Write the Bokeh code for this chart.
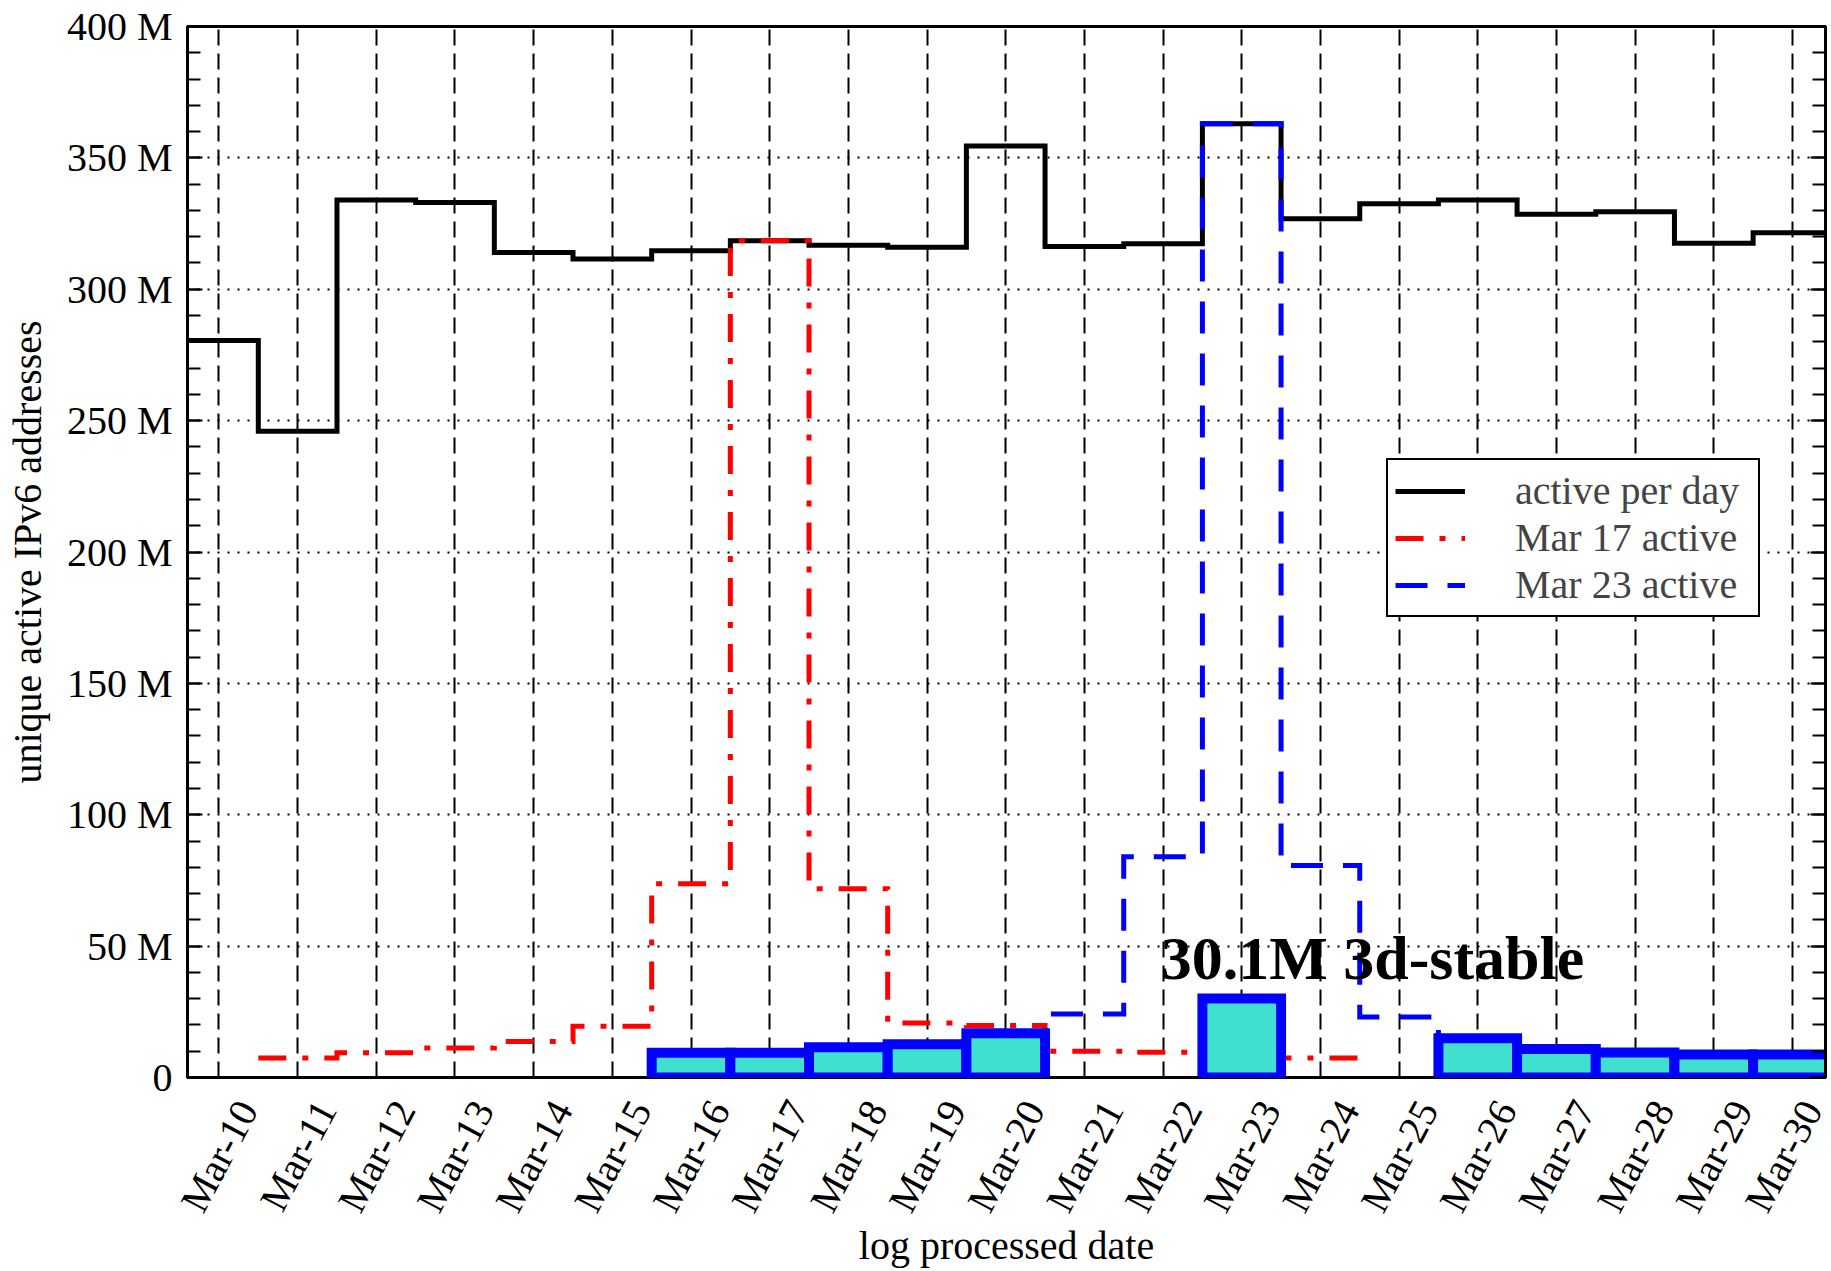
from bokeh.plotting import figure
from bokeh.models import Range1d, FixedTicker, LinearAxis, Legend, LegendItem
from bokeh.core.properties import value
from bokeh.embed import file_html
from bokeh.resources import INLINE
import math

# ---------------- data (millions of addresses) ----------------
day_labels = ["Mar-10", "Mar-11", "Mar-12", "Mar-13", "Mar-14", "Mar-15", "Mar-16",
              "Mar-17", "Mar-18", "Mar-19", "Mar-20", "Mar-21", "Mar-22", "Mar-23",
              "Mar-24", "Mar-25", "Mar-26", "Mar-27", "Mar-28", "Mar-29", "Mar-30"]

active_per_day = [280.5, 246.0, 334.0, 333.0, 314.0, 311.5, 314.7, 318.5, 316.7, 316.0,
                  354.5, 316.3, 317.3, 363.0, 326.8, 332.5, 334.0, 328.5, 329.5, 317.5, 321.5]

mar17_days = ["Mar-11", "Mar-12", "Mar-13", "Mar-14", "Mar-15", "Mar-16", "Mar-17",
              "Mar-18", "Mar-19", "Mar-20", "Mar-21", "Mar-22", "Mar-23", "Mar-24"]
mar17_active = [7.4, 9.4, 11.2, 13.7, 19.5, 73.7, 318.5, 71.8, 20.7, 19.8, 10.0, 9.6, 9.5, 7.4]

mar23_days = ["Mar-20", "Mar-21", "Mar-22", "Mar-23", "Mar-24", "Mar-25", "Mar-26"]
mar23_active = [16.8, 24.2, 84.0, 363.0, 80.7, 23.0, 14.9]

stable_days = ["Mar-16", "Mar-17", "Mar-18", "Mar-19", "Mar-20", "Mar-23",
               "Mar-26", "Mar-27", "Mar-28", "Mar-29", "Mar-30"]
stable_3d = [9.4, 9.4, 11.5, 12.7, 16.8, 30.1, 14.9, 10.8, 9.5, 8.8, 8.8]

annotation_text = ["30.1M 3d-stable"]
annotation_day = ["Mar-22"]

y_ticks = [0, 50, 100, 150, 200, 250, 300, 350, 400]
y_tick_labels = ["0", "50 M", "100 M", "150 M", "200 M", "250 M", "300 M", "350 M", "400 M"]

series_names = ["active per day", "Mar 17 active", "Mar 23 active"]

FONT = "Liberation Serif"
X_LO, X_HI = -0.4, 20.42
LABEL_SHIFT = 0.36   # tick labels sit a little to the right of their tick (as in the reference)


def idx(d):
    return day_labels.index(d)


def step_xy(days, vals):
    xs, ys = [], []
    for d, v in zip(days, vals):
        i = idx(d)
        xs += [i - 0.5, i + 0.5]
        ys += [v, v]
    return xs, ys


p = figure(width=1831, height=1271,
           x_range=Range1d(X_LO, X_HI), y_range=Range1d(0, 400),
           x_axis_location=None,
           output_backend="svg", toolbar_location=None,
           min_border_left=187, min_border_right=6,
           min_border_top=26, min_border_bottom=194)
p.extra_x_ranges = {"lab": Range1d(X_LO - LABEL_SHIFT, X_HI - LABEL_SHIFT)}
p.background_fill_color = "white"
p.border_fill_color = "white"
p.outline_line_color = "black"
p.outline_line_width = 3

# bottom axis (labels only, shifted)
xt = FixedTicker(ticks=list(range(len(day_labels))), minor_ticks=[])
xa = LinearAxis(x_range_name="lab", ticker=FixedTicker(ticks=list(range(len(day_labels))), minor_ticks=[]))
xa.major_label_overrides = {i: lab for i, lab in enumerate(day_labels)}
xa.major_label_orientation = math.radians(62)
xa.major_label_text_font = FONT
xa.major_label_text_font_size = "40px"
xa.major_label_text_color = "black"
xa.major_label_standoff = 26
xa.major_tick_in = 0
xa.major_tick_out = 0
xa.axis_line_color = None
xa.axis_label = "log processed date"
xa.axis_label_text_font = FONT
xa.axis_label_text_font_size = "40px"
xa.axis_label_text_font_style = "normal"
xa.axis_label_text_color = "black"
xa.axis_label_standoff = -10
p.add_layout(xa, "below")

minor = list(range(0, 401, 10))
p.yaxis.ticker = FixedTicker(ticks=y_ticks, minor_ticks=minor)
p.yaxis.major_label_overrides = {t: l for t, l in zip(y_ticks, y_tick_labels)}
p.yaxis.major_label_text_font = FONT
p.yaxis.major_label_text_font_size = "40px"
p.yaxis.major_label_text_color = "black"
p.yaxis.major_label_standoff = 15
p.yaxis.major_tick_in = 15
p.yaxis.major_tick_out = 0
p.yaxis.minor_tick_in = 13
p.yaxis.minor_tick_out = 0
p.yaxis.major_tick_line_width = 2
p.yaxis.minor_tick_line_width = 2
p.yaxis.axis_line_width = 3
p.yaxis.axis_label = "unique active IPv6 addresses"
p.yaxis.axis_label_text_font = FONT
p.yaxis.axis_label_text_font_size = "40px"
p.yaxis.axis_label_text_font_style = "normal"
p.yaxis.axis_label_text_color = "black"
p.yaxis.axis_label_standoff = 14

ra = LinearAxis(ticker=FixedTicker(ticks=y_ticks, minor_ticks=minor))
ra.major_label_overrides = {t: "" for t in y_ticks}
ra.major_label_standoff = 0
ra.major_tick_in = 15
ra.major_tick_out = 0
ra.minor_tick_in = 13
ra.minor_tick_out = 0
ra.major_tick_line_width = 2
ra.minor_tick_line_width = 2
ra.axis_line_width = 3
p.add_layout(ra, "right")

# grids
p.xgrid.ticker = xt
p.xgrid.grid_line_color = "black"
p.xgrid.grid_line_width = 2
p.xgrid.grid_line_dash = "16 8"
p.ygrid.ticker = FixedTicker(ticks=y_ticks)
p.ygrid.grid_line_color = "black"
p.ygrid.grid_line_width = 2
p.ygrid.grid_line_dash = "2 8"

# series
bx, by = step_xy(day_labels, active_per_day)
r_black = p.line(bx, by, line_color="black", line_width=5, line_join="miter")

rx, ry = step_xy(mar17_days, mar17_active)
r_red = p.line(rx, ry, line_color="#FF0000", line_width=5, line_dash="28 16 6 16", line_join="miter")

ux, uy = step_xy(mar23_days, mar23_active)
r_blue = p.line(ux, uy, line_color="#0000FF", line_width=5, line_dash="32 20", line_join="miter")

sl = [idx(d) - 0.5 for d in stable_days]
sr = [idx(d) + 0.5 for d in stable_days]
p.quad(left=sl, right=sr, bottom=[0] * len(stable_days), top=stable_3d,
       fill_color="#40E0D0", line_color="#0000FF", line_width=10, line_join="miter")

p.text(x=[idx(d) - 0.03 for d in annotation_day], y=[45.5], text=annotation_text,
       text_font=value(FONT), text_font_style="bold", text_font_size="62px",
       text_baseline="alphabetic", text_align="left", text_color="black")

legend = Legend(items=[LegendItem(label=series_names[0], renderers=[r_black]),
                       LegendItem(label=series_names[1], renderers=[r_red]),
                       LegendItem(label=series_names[2], renderers=[r_blue])],
                location=(1199, 460))
legend.label_text_font = FONT
legend.label_text_font_size = "40px"
legend.glyph_width = 70
legend.glyph_height = 40
legend.label_height = 40
legend.label_width = 236
legend.label_standoff = 50
legend.spacing = -1
legend.padding = 7
legend.margin = 0
legend.border_line_color = "black"
legend.border_line_width = 2
legend.border_line_alpha = 1.0
legend.background_fill_color = "white"
legend.background_fill_alpha = 1.0
p.add_layout(legend)

open("out.html", "w").write(file_html(p, INLINE))
